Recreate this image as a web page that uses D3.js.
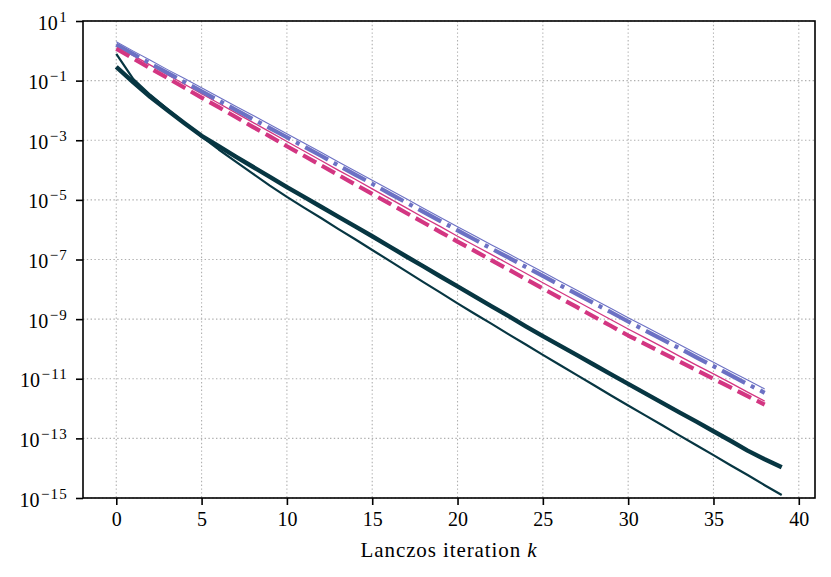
<!DOCTYPE html>
<html>
<head>
<meta charset="utf-8">
<script src="https://cdn.jsdelivr.net/npm/d3@7"></script>
<style>
  html, body { margin: 0; padding: 0; background: #fff; }
  svg text { font-family: "Liberation Serif", "DejaVu Serif", serif; fill: #000; }
</style>
</head>
<body>
<svg id="chart" width="831" height="577"></svg>
<script>
// ---- data ----
const iterDark = d3.range(0, 40);   // k = 0..39
const iterUpper = d3.range(0, 39);  // k = 0..38

const darkThick = [2.88e-1, 8.71e-2, 2.82e-2, 1.02e-2, 3.72e-3, 1.41e-3, 6.31e-4, 2.82e-4, 1.29e-4, 5.89e-5,
  2.69e-5, 1.26e-5, 5.89e-6, 2.75e-6, 1.29e-6, 6.03e-7, 2.75e-7, 1.26e-7, 5.89e-8, 2.69e-8,
  1.26e-8, 5.75e-9, 2.69e-9, 1.26e-9, 5.75e-10, 2.69e-10, 1.29e-10, 6.17e-11, 2.95e-11, 1.41e-11,
  6.76e-12, 3.24e-12, 1.55e-12, 7.41e-13, 3.63e-13, 1.74e-13, 8.32e-14, 3.89e-14, 2.00e-14, 1.07e-14];

const darkThin = [7.94e-1, 1.12e-1, 3.31e-2, 1.10e-2, 3.80e-3, 1.32e-3, 4.90e-4, 1.91e-4, 7.59e-5, 3.02e-5,
  1.26e-5, 5.50e-6, 2.46e-6, 1.07e-6, 4.79e-7, 2.09e-7, 9.12e-8, 3.98e-8, 1.74e-8, 7.76e-9,
  3.39e-9, 1.51e-9, 6.92e-10, 3.09e-10, 1.41e-10, 6.31e-11, 2.88e-11, 1.32e-11, 6.03e-12, 2.75e-12,
  1.26e-12, 5.89e-13, 2.75e-13, 1.26e-13, 5.89e-14, 2.75e-14, 1.26e-14, 5.89e-15, 2.69e-15, 1.26e-15];

const violetThin = [2.00e0, 9.77e-1, 4.79e-1, 2.34e-1, 1.17e-1, 5.75e-2, 2.82e-2, 1.38e-2, 6.92e-3, 3.39e-3,
  1.66e-3, 8.13e-4, 3.98e-4, 1.91e-4, 9.33e-5, 4.57e-5, 2.24e-5, 1.10e-5, 5.25e-6, 2.57e-6,
  1.26e-6, 6.31e-7, 3.09e-7, 1.55e-7, 7.59e-8, 3.80e-8, 1.86e-8, 9.33e-9, 4.57e-9, 2.29e-9,
  1.12e-9, 5.62e-10, 2.82e-10, 1.41e-10, 7.08e-11, 3.55e-11, 1.78e-11, 9.12e-12, 4.57e-12];

const violetDashDot = [1.62e0, 7.76e-1, 3.72e-1, 1.82e-1, 8.91e-2, 4.37e-2, 2.14e-2, 1.05e-2, 5.13e-3, 2.57e-3,
  1.26e-3, 6.17e-4, 3.02e-4, 1.45e-4, 7.08e-5, 3.47e-5, 1.66e-5, 8.13e-6, 3.98e-6, 1.95e-6,
  9.55e-7, 4.68e-7, 2.29e-7, 1.15e-7, 5.62e-8, 2.82e-8, 1.38e-8, 6.92e-9, 3.39e-9, 1.70e-9,
  8.32e-10, 4.17e-10, 2.09e-10, 1.05e-10, 5.25e-11, 2.63e-11, 1.32e-11, 6.61e-12, 3.39e-12];

const magentaThin = [1.45e0, 6.92e-1, 3.31e-1, 1.58e-1, 7.59e-2, 3.63e-2, 1.74e-2, 8.32e-3, 3.98e-3, 1.91e-3,
  9.12e-4, 4.37e-4, 2.09e-4, 1.00e-4, 4.90e-5, 2.34e-5, 1.12e-5, 5.37e-6, 2.57e-6, 1.26e-6,
  6.03e-7, 2.95e-7, 1.45e-7, 7.08e-8, 3.47e-8, 1.66e-8, 8.13e-9, 3.98e-9, 1.95e-9, 9.55e-10,
  4.68e-10, 2.34e-10, 1.17e-10, 5.75e-11, 2.88e-11, 1.45e-11, 7.24e-12, 3.55e-12, 1.78e-12];

const magentaDashed = [1.17e0, 5.50e-1, 2.57e-1, 1.23e-1, 5.75e-2, 2.69e-2, 1.29e-2, 6.03e-3, 2.82e-3, 1.35e-3,
  6.31e-4, 3.02e-4, 1.45e-4, 6.92e-5, 3.31e-5, 1.58e-5, 7.59e-6, 3.63e-6, 1.74e-6, 8.32e-7,
  3.98e-7, 1.95e-7, 9.33e-8, 4.57e-8, 2.19e-8, 1.07e-8, 5.13e-9, 2.51e-9, 1.20e-9, 5.89e-10,
  2.82e-10, 1.45e-10, 7.41e-11, 3.80e-11, 1.95e-11, 1.00e-11, 5.13e-12, 2.63e-12, 1.35e-12];

const xTicks = [0, 5, 10, 15, 20, 25, 30, 35, 40];
const yTickExponents = [1, -1, -3, -5, -7, -9, -11, -13, -15];
const xLabel = "Lanczos iteration ";
const xLabelVar = "k";

// ---- layout ----
const W = 831, H = 577;
const m = { left: 83, right: 16, top: 21, bottom: 79 };
const iw = W - m.left - m.right, ih = H - m.top - m.bottom;

const svg = d3.select("#chart");
const g = svg.append("g").attr("transform", `translate(${m.left},${m.top})`);

const x = d3.scaleLinear().domain([-1.95, 40.95]).range([0, iw]);
const y = d3.scaleLog().domain([1e-15, 1e1]).range([ih, 0]);

// grid
const gridStyle = sel => sel.attr("stroke", "#b0b0b0").attr("stroke-width", 1.1)
  .attr("stroke-dasharray", "1.4,2.4").attr("fill", "none");
g.append("g").selectAll("line").data(xTicks).join("line")
  .attr("x1", d => x(d)).attr("x2", d => x(d)).attr("y1", 0).attr("y2", ih).call(gridStyle);
g.append("g").selectAll("line").data(yTickExponents).join("line")
  .attr("y1", d => y(Math.pow(10, d))).attr("y2", d => y(Math.pow(10, d))).attr("x1", 0).attr("x2", iw).call(gridStyle);

// clip
svg.append("defs").append("clipPath").attr("id", "clip")
  .append("rect").attr("x", 0).attr("y", 0).attr("width", iw).attr("height", ih);
const plot = g.append("g").attr("clip-path", "url(#clip)");

const line = d3.line().x(d => x(d[0])).y(d => y(d[1]));
const series = [
  { xs: iterUpper, ys: violetThin,    color: "#6c71c4", w: 1.1, dash: null },
  { xs: iterUpper, ys: magentaThin,   color: "#d33682", w: 1.3, dash: null },
  { xs: iterUpper, ys: violetDashDot, color: "#6c71c4", w: 4.2, dash: "26,6.5,4,6.5" },
  { xs: iterUpper, ys: magentaDashed, color: "#d33682", w: 4.2, dash: "15,6.5" },
  { xs: iterDark,  ys: darkThick,     color: "#073642", w: 4.4, dash: null },
  { xs: iterDark,  ys: darkThin,      color: "#073642", w: 2.2, dash: null }
];
series.forEach(s => {
  plot.append("path")
    .datum(s.xs.map((k, i) => [k, s.ys[i]]))
    .attr("d", line)
    .attr("fill", "none")
    .attr("stroke", s.color)
    .attr("stroke-width", s.w)
    .attr("stroke-linejoin", "round")
    .attr("stroke-linecap", "butt")
    .attr("stroke-dasharray", s.dash);
});

// axes
const xAxis = d3.axisBottom(x).tickValues(xTicks).tickSize(7).tickPadding(7).tickFormat(d3.format("d"));
const gx = g.append("g").attr("transform", `translate(0,${ih})`).call(xAxis);
gx.select(".domain").remove();
gx.selectAll(".tick line").attr("stroke", "#000").attr("stroke-width", 1.6);
gx.selectAll(".tick text").attr("font-size", 20).attr("fill", "#000")
  .attr("font-family", "Liberation Serif, serif").attr("dy", "0.71em");

const yAxis = d3.axisLeft(y).tickValues(yTickExponents.map(e => Math.pow(10, e))).tickSize(7).tickFormat("");
const gy = g.append("g").call(yAxis);
gy.select(".domain").remove();
gy.selectAll(".tick line").attr("stroke", "#000").attr("stroke-width", 1.6);
gy.selectAll(".tick").each(function(d) {
  const e = Math.round(Math.log10(d));
  const t = d3.select(this).append("text")
    .attr("x", -15).attr("y", 8)
    .attr("text-anchor", "end")
    .attr("font-size", 20);
  t.append("tspan").text("10");
  t.append("tspan").attr("font-size", 15).attr("dy", -8).attr("dx", 1.5)
    .attr("letter-spacing", 1.2)
    .text(e < 0 ? "\u2212" + Math.abs(e) : String(e));
});

// frame
g.append("rect").attr("x", 0).attr("y", 0).attr("width", iw).attr("height", ih)
  .attr("fill", "none").attr("stroke", "#000").attr("stroke-width", 1.6);

// x label
const xl = svg.append("text")
  .attr("x", m.left + iw / 2).attr("y", 557)
  .attr("text-anchor", "middle").attr("font-size", 21).attr("letter-spacing", 0.9);
xl.append("tspan").text(xLabel);
xl.append("tspan").attr("font-style", "italic").text(xLabelVar);
</script>
</body>
</html>
